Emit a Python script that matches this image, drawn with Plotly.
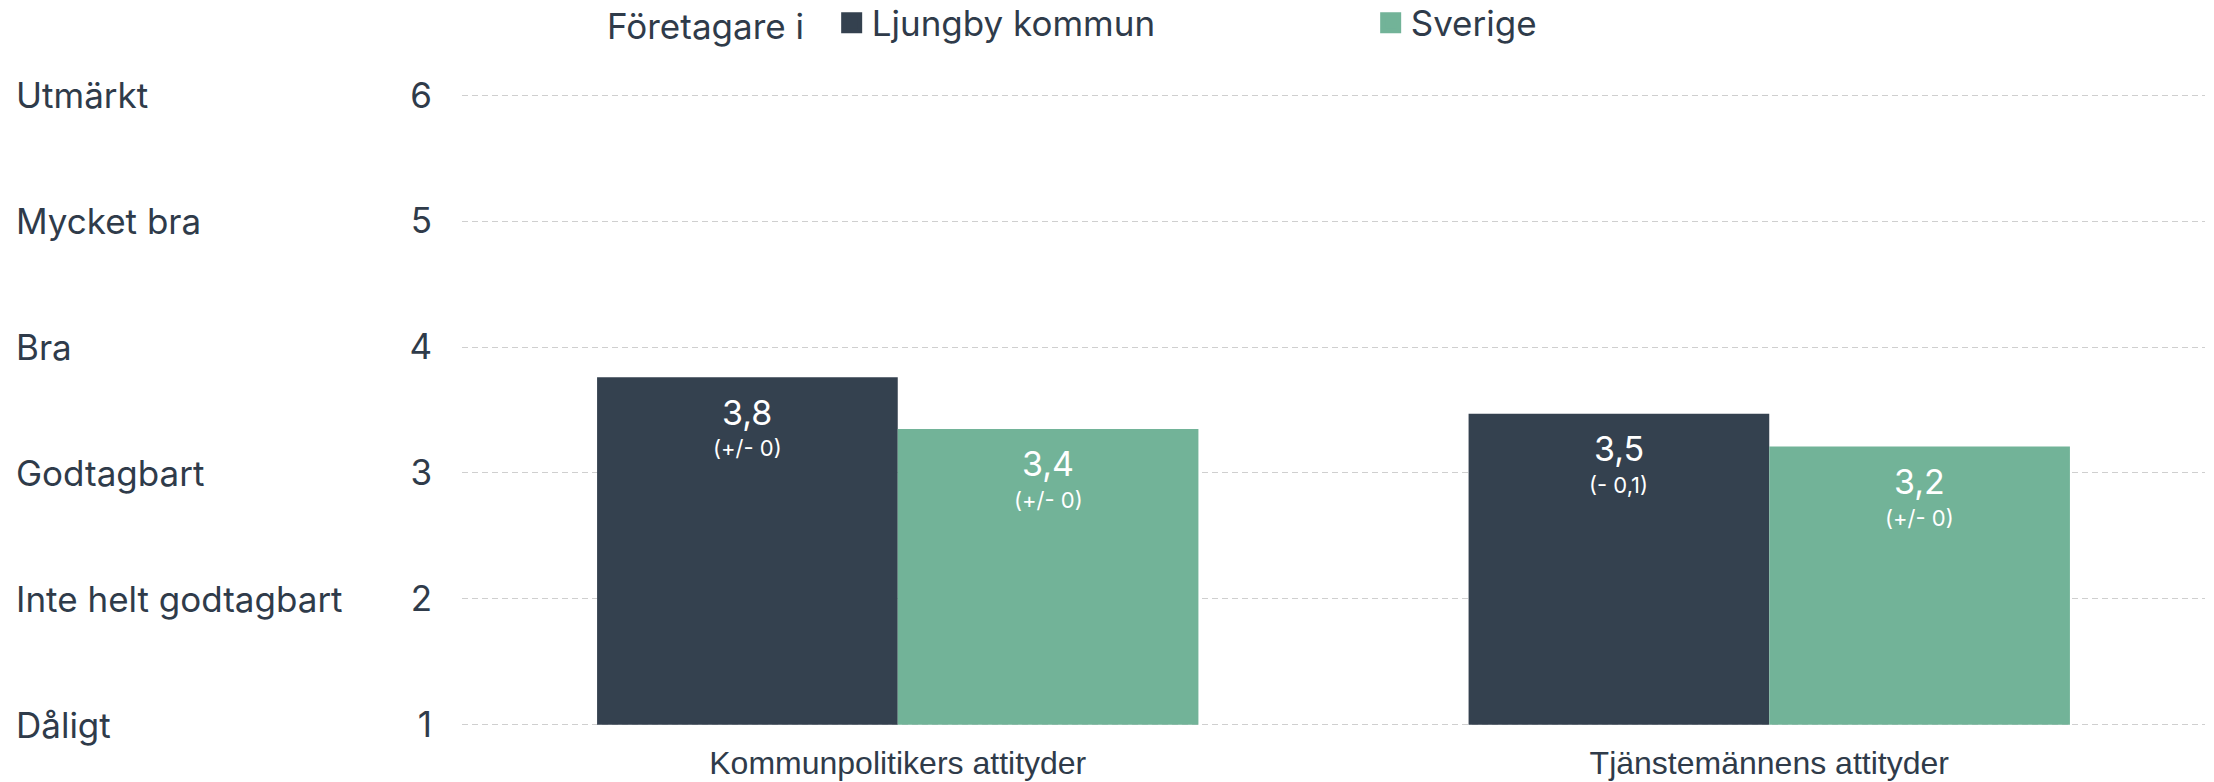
import plotly.graph_objects as go

categories = ["Kommunpolitikers attityder", "Tjänstemännens attityder"]
series_names = ["Ljungby kommun", "Sverige"]
ljungby_values = [3.76, 3.47]
sverige_values = [3.35, 3.21]
ljungby_labels = ["3,8", "3,5"]
sverige_labels = ["3,4", "3,2"]
ljungby_changes = ["(+/- 0)", "(- 0,1)"]
sverige_changes = ["(+/- 0)", "(+/- 0)"]
tick_values = [1, 2, 3, 4, 5, 6]
tick_names = ["Dåligt", "Inte helt godtagbart", "Godtagbart", "Bra", "Mycket bra", "Utmärkt"]
scale_base = 1

DARK = "#34414f"
GREEN = "#72b398"
TEXT = "#2f3b4a"
FONT = "Inter"

W, H = 2214, 782
Y0, Y1 = 0.95, 6.05
PX_PER_UNIT = 126
ML, MR = 462, 9
MT = round(95 - (Y1 - 6) * PX_PER_UNIT)
MB = round(H - (725 + (1 - Y0) * PX_PER_UNIT))
BARGAP = 0.31

fig = go.Figure()
series = [
    (series_names[0], ljungby_values, DARK),
    (series_names[1], sverige_values, GREEN),
]
for name, vals, color in series:
    fig.add_trace(go.Bar(
        x=categories, y=[v - scale_base for v in vals], base=scale_base, name=name,
        marker=dict(color=color, line=dict(width=0)),
        showlegend=False, hoverinfo="skip",
    ))
    fig.add_trace(go.Scatter(
        x=[None], y=[None], mode="markers", name=name,
        marker=dict(symbol="square", size=16, color=color, line=dict(color=color, width=5)),
        showlegend=True, hoverinfo="skip",
    ))

plot_w = W - ML - MR
cat_w = plot_w / len(categories)
bar_w = cat_w * (1 - BARGAP) / 2

annotations = []
for v, t in zip(tick_values, tick_names):
    annotations.append(dict(
        x=(14 - ML) / plot_w, xref="paper", y=v, yref="y", text=t, showarrow=False,
        xanchor="left", yanchor="middle", font=dict(family=FONT, size=35, color=TEXT),
    ))

for si, (vals, labels, changes) in enumerate([
    (ljungby_values, ljungby_labels, ljungby_changes),
    (sverige_values, sverige_labels, sverige_changes),
]):
    shift = (si - 0.5) * bar_w
    for cat, v, lab, ch in zip(categories, vals, labels, changes):
        annotations.append(dict(
            x=cat, xref="x", y=v, yref="y", xshift=shift, yshift=-35, text=lab,
            showarrow=False, xanchor="center", yanchor="middle",
            font=dict(family=FONT, size=34, color="white"),
        ))
        annotations.append(dict(
            x=cat, xref="x", y=v, yref="y", xshift=shift, yshift=-71, text=ch,
            showarrow=False, xanchor="center", yanchor="middle",
            font=dict(family=FONT, size=22, color="white"),
        ))

fig.update_layout(
    width=W, height=H,
    margin=dict(l=ML, r=MR, t=MT, b=MB),
    paper_bgcolor="white", plot_bgcolor="white",
    barmode="group", bargap=BARGAP, bargroupgap=0,
    font=dict(family=FONT, color=TEXT),
    legend=dict(
        orientation="h", xref="container", x=605 / W, xanchor="left",
        yref="container", y=1 - 23 / H, yanchor="middle",
        title=dict(text="Företagare i&nbsp;&nbsp;", font=dict(family=FONT, size=35, color=TEXT)),
        font=dict(family=FONT, size=35, color=TEXT),
        itemsizing="trace", entrywidth=494, entrywidthmode="pixels",
        bgcolor="rgba(0,0,0,0)",
    ),
    annotations=annotations,
    xaxis=dict(
        showgrid=False, showline=False, zeroline=False, automargin=False,
        ticks="outside", ticklen=4, tickcolor="rgba(0,0,0,0)",
        tickfont=dict(family="Liberation Sans", size=32, color=TEXT),
    ),
    yaxis=dict(
        range=[Y0, Y1], tickvals=tick_values, ticktext=[str(v) for v in tick_values],
        showgrid=True, gridcolor="#cfcfcf", griddash="6px,4px", gridwidth=1,
        zeroline=False, showline=False, automargin=False,
        ticks="outside", ticklen=22, tickcolor="rgba(0,0,0,0)",
        tickfont=dict(family=FONT, size=35, color=TEXT),
    ),
)

fig.write_html(
    "out.html",
    config={"displayModeBar": False},
    post_script="document.body.style.margin='0';document.body.style.overflow='hidden';",
)
